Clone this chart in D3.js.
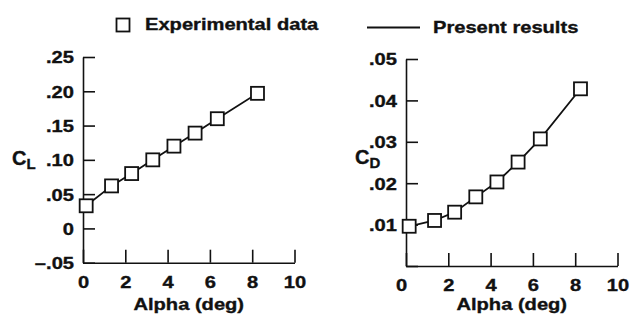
<!DOCTYPE html>
<html>
<head>
<meta charset="utf-8">
<script src="https://cdn.jsdelivr.net/npm/d3@7"></script>
<style>
  body { margin: 0; background: #fff; }
  text { font-family: "Liberation Sans", Arial, sans-serif; font-weight: bold; fill: #111; stroke: #111; stroke-width: 0.35px; }
</style>
</head>
<body>
<div id="chart-area"></div>
<script>
// Data
// ****
const alpha = [0.15, 1.35, 2.3, 3.3, 4.3, 5.3, 6.35, 8.25]
const cl = [0.033, 0.062, 0.080, 0.100, 0.120, 0.139, 0.160, 0.197]
const cd = [0.0096, 0.0110, 0.0130, 0.0167, 0.0203, 0.0251, 0.0307, 0.0428]
const alphaTicks = [0, 2, 4, 6, 8, 10]
const clTicks = [-0.05, 0, 0.05, 0.10, 0.15, 0.20, 0.25]
const clTickLabels = ["\u2013.05", "0", ".05", ".10", ".15", ".20", ".25"]
const cdTicks = [0, 0.01, 0.02, 0.03, 0.04, 0.05]
const cdTickLabels = ["", ".01", ".02", ".03", ".04", ".05"]

// Config
// ******
const width = 638, height = 329
const stretch = 1.22
const fs = 16.5

const svg = d3.select("#chart-area")
	.append("svg")
		.attr("width", width)
		.attr("height", height)

// Legend
// ******
svg.append("rect")
	.attr("x", 116.5).attr("y", 18.5).attr("width", 13).attr("height", 13)
	.attr("fill", "#fff").attr("stroke", "#111").attr("stroke-width", 1.8)
svg.append("text")
	.attr("transform", "translate(145,29.5) scale(" + stretch + ",1)")
	.attr("font-size", fs + "px")
	.text("Experimental data")
svg.append("line")
	.attr("x1", 367).attr("x2", 420).attr("y1", 27.5).attr("y2", 27.5)
	.attr("stroke", "#111").attr("stroke-width", 1.8)
svg.append("text")
	.attr("transform", "translate(433,33) scale(" + stretch + ",1)")
	.attr("font-size", fs + "px")
	.text("Present results")

// Panels
// ******
drawPanel({
	xRange: [83, 294.5], yDomain: [-0.05, 0.25], yRange: [262.7, 57],
	values: cl, ticks: clTicks, labels: clTickLabels,
	sym: "L", symX: 12, symY: 165, zeroShift: 0
})
drawPanel({
	xRange: [406, 617.5], yDomain: [0, 0.05], yRange: [266, 59],
	values: cd, ticks: cdTicks, labels: cdTickLabels,
	sym: "D", symX: 355, symY: 164, zeroShift: -5
})

function drawPanel(p) {
	const x = d3.scaleLinear().domain([0, 10]).range(p.xRange)
	const y = d3.scaleLinear().domain(p.yDomain).range(p.yRange)
	const g = svg.append("g")

	// Y Axis
	const yAxis = d3.axisLeft(y).tickValues(p.ticks).tickSizeInner(-12).tickSizeOuter(0)
		.tickFormat((d, i) => p.labels[i])
	const ya = g.append("g").attr("transform", "translate(" + p.xRange[0] + ",0)").call(yAxis)
	ya.selectAll("text")
		.attr("x", -9 / stretch).attr("dy", "0.36em")
		.attr("transform", "scale(" + stretch + ",1)")
		.attr("font-size", fs + "px").attr("font-family", null)

	// X Axis
	const xAxis = d3.axisBottom(x).tickValues(alphaTicks).tickSizeInner(-13).tickSizeOuter(0)
	const xa = g.append("g").attr("transform", "translate(0," + p.yRange[0] + ")").call(xAxis)
	xa.selectAll("text")
		.attr("y", 25).attr("dy", 0)
		.attr("x", d => d === 0 ? p.zeroShift / stretch : 0)
		.attr("transform", "scale(" + stretch + ",1)")
		.attr("font-size", fs + "px").attr("font-family", null)

	g.selectAll(".domain, .tick line").attr("stroke", "#111").attr("stroke-width", 1.6)

	// Axis labels
	g.append("text")
		.attr("transform", "translate(" + ((p.xRange[0] + p.xRange[1]) / 2) + ",310) scale(" + stretch + ",1)")
		.attr("text-anchor", "middle")
		.attr("font-size", fs + "px")
		.text("Alpha (deg)")
	const sym = g.append("text")
		.attr("x", p.symX).attr("y", p.symY)
		.attr("font-size", "20px")
	sym.append("tspan").text("C")
	sym.append("tspan").attr("dy", 4).attr("font-size", "15px").text(p.sym)

	// Line + markers
	const pts = alpha.map((a, i) => [a, p.values[i]])
	g.append("path")
		.datum(pts)
		.attr("fill", "none").attr("stroke", "#111").attr("stroke-width", 1.8)
		.attr("d", d3.line().x(d => x(d[0])).y(d => y(d[1])))
	g.selectAll("rect.pt").data(pts).enter().append("rect")
		.attr("class", "pt")
		.attr("x", d => x(d[0]) - 6.5).attr("y", d => y(d[1]) - 6.5)
		.attr("width", 13).attr("height", 13)
		.attr("fill", "#fff").attr("stroke", "#111").attr("stroke-width", 1.8)
}
</script>
</body>
</html>
